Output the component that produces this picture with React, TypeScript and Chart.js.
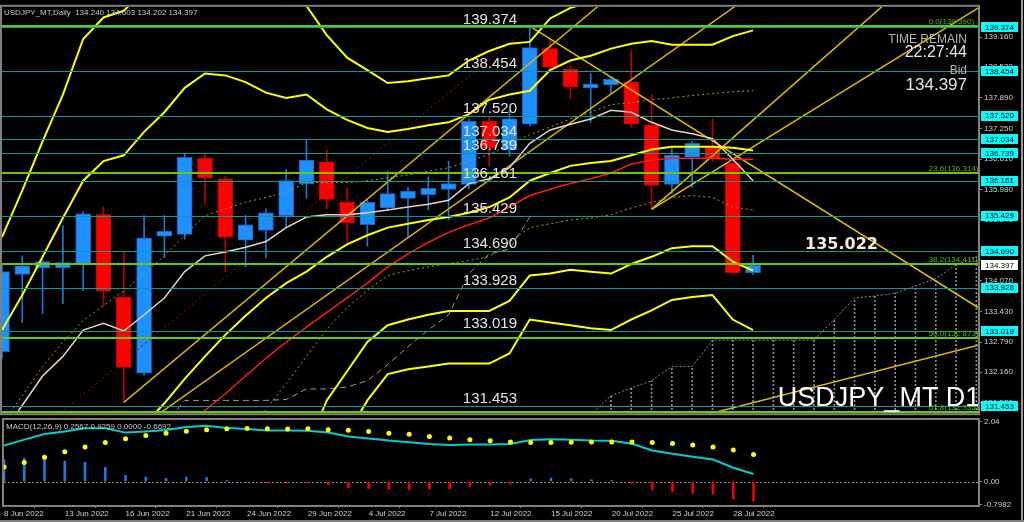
import React, { useEffect, useRef } from 'react';
import { Chart, registerables } from 'chart.js';

Chart.register(...registerables);
const FONT = "'Liberation Sans', Arial, sans-serif";
Chart.defaults.font.family = FONT;
Chart.defaults.font.size = 8;

// ---------------- data ----------------
const dateTickIdx = [0, 3, 6, 9, 12, 15, 18, 21, 24, 27, 30, 33, 36];
const dateTickLabels = ['8 Jun 2022', '13 Jun 2022', '16 Jun 2022', '21 Jun 2022', '24 Jun 2022', '29 Jun 2022', '4 Jul 2022', '7 Jul 2022', '12 Jul 2022', '15 Jul 2022', '20 Jul 2022', '25 Jul 2022', '28 Jul 2022'];

const opens = [132.59, 134.20, 134.34, 134.34, 134.40, 135.45, 133.73, 132.14, 135.00, 135.04, 136.63, 136.20, 134.92, 135.12, 135.43, 136.10, 136.55, 135.71, 135.24, 135.59, 135.79, 135.87, 135.98, 136.08, 137.40, 136.81, 137.34, 138.92, 138.49, 138.10, 138.16, 138.22, 137.32, 136.08, 136.65, 136.87, 136.53, 134.240];
const highs = [134.40, 134.59, 134.50, 135.22, 135.51, 135.61, 134.69, 135.43, 135.43, 136.71, 136.71, 136.25, 135.43, 135.57, 136.40, 137.02, 136.81, 136.00, 135.75, 136.36, 136.02, 136.24, 136.57, 137.45, 137.49, 137.63, 139.39, 139.12, 138.57, 138.40, 138.30, 138.87, 137.96, 136.83, 136.98, 137.45, 136.60, 134.603];
const lows = [132.45, 133.20, 133.38, 133.59, 133.87, 133.55, 131.53, 132.10, 134.55, 134.94, 135.69, 134.26, 134.36, 134.55, 135.18, 135.79, 135.57, 134.85, 134.79, 135.55, 134.98, 135.55, 135.34, 135.99, 136.47, 136.67, 137.30, 138.45, 137.87, 137.38, 137.98, 137.28, 135.59, 135.89, 136.02, 136.55, 134.20, 134.202];
const closes = [134.26, 134.38, 134.47, 134.45, 135.47, 133.85, 132.26, 134.96, 135.10, 136.65, 136.22, 134.98, 135.24, 135.49, 136.16, 136.59, 135.77, 135.28, 135.71, 135.89, 135.94, 136.00, 136.10, 137.40, 136.85, 137.45, 138.94, 138.53, 138.12, 138.18, 138.28, 137.34, 136.06, 136.69, 136.94, 136.61, 134.24, 134.397];

const bbUpper3 = [134.98, 135.96, 136.98, 137.96, 139.12, 139.57, 139.71, 140.14, 140.62, 141.14, 141.36, 141.08, 140.65, 140.14, 139.83, 139.81, 139.20, 138.73, 138.47, 138.20, 138.24, 138.30, 138.36, 138.67, 138.87, 139.02, 139.06, 139.55, 139.77, 139.89, 140.08, 140.18, 140.20, 140.06, 140.06, 140.06, 140.34, 140.55];
const bbUpper2 = [133.04, 133.77, 134.57, 135.38, 136.16, 136.57, 136.69, 137.18, 137.59, 138.10, 138.40, 138.36, 138.22, 138.00, 137.89, 137.96, 137.65, 137.43, 137.26, 137.18, 137.24, 137.32, 137.38, 137.55, 137.85, 137.96, 138.04, 138.47, 138.67, 138.77, 138.92, 139.02, 139.08, 139.00, 139.00, 139.00, 139.18, 139.30];
const bbMid = [null, null, null, null, null, null, 130.55, 131.06, 131.51, 132.02, 132.49, 132.94, 133.34, 133.71, 134.02, 134.26, 134.57, 134.83, 135.02, 135.18, 135.26, 135.34, 135.40, 135.49, 135.61, 135.81, 136.16, 136.32, 136.47, 136.53, 136.57, 136.69, 136.81, 136.87, 136.87, 136.87, 136.85, 136.79];
const bbLower2 = [null, null, null, null, null, null, null, null, null, null, null, null, null, null, null, 130.57, 131.57, 132.18, 132.79, 133.14, 133.26, 133.36, 133.44, 133.44, 133.44, 133.65, 134.18, 134.22, 134.30, 134.26, 134.22, 134.42, 134.57, 134.75, 134.79, 134.79, 134.47, 134.28];
const bbLower3 = [null, null, null, null, null, null, null, null, null, null, null, null, null, null, null, null, null, 130.85, 131.57, 132.12, 132.22, 132.28, 132.34, 132.34, 132.34, 132.55, 133.26, 133.20, 133.14, 133.08, 133.04, 133.26, 133.45, 133.67, 133.73, 133.77, 133.26, 133.04];
const maSilver = [130.85, 131.47, 132.08, 132.49, 133.04, 133.18, 133.02, 133.36, 133.71, 134.26, 134.59, 134.67, 134.77, 134.89, 135.18, 135.40, 135.45, 135.45, 135.49, 135.55, 135.61, 135.67, 135.75, 136.10, 136.20, 136.43, 136.94, 137.22, 137.34, 137.45, 137.63, 137.59, 137.38, 137.22, 137.14, 137.04, 136.61, 136.16];
const maRed = [null, null, null, null, null, null, null, null, null, 131.06, 131.36, 131.71, 132.08, 132.45, 132.79, 133.10, 133.41, 133.71, 134.02, 134.36, 134.63, 134.87, 135.08, 135.24, 135.38, 135.61, 135.85, 135.98, 136.10, 136.20, 136.32, 136.51, 136.59, 136.63, 136.63, 136.63, 136.61, 136.61];
const dotUpper = [131.06, 131.67, 132.28, 132.79, 133.24, 133.55, 133.86, 134.22, 134.59, 135.02, 135.43, 135.57, 135.71, 135.81, 135.92, 136.12, 136.12, 136.12, 136.16, 136.22, 136.28, 136.36, 136.43, 136.57, 136.71, 136.92, 137.12, 137.28, 137.45, 137.59, 137.75, 137.79, 137.85, 137.89, 137.94, 137.98, 138.02, 138.04];
const dotLower = [null, null, null, null, null, null, null, null, null, null, null, null, 130.85, 131.38, 131.92, 132.49, 133.06, 133.51, 133.87, 134.18, 134.28, 134.36, 134.43, 134.49, 134.57, 134.88, 135.18, 135.26, 135.34, 135.38, 135.45, 135.59, 135.71, 135.81, 135.85, 135.81, 135.61, 135.55];
const grayDash = [null, null, null, null, null, null, null, null, 131.06, 131.57, 131.57, 131.57, 131.57, 131.57, 131.59, 131.81, 131.81, 131.85, 131.98, 132.32, 132.69, 133.04, 133.36, 134.22, 134.63, 134.73, 135.40, null, null, null, null, null, null, null, null, null, null, null];
const cloudTop = [null, null, null, null, null, null, null, null, null, null, null, null, null, null, null, null, null, null, null, null, null, null, null, null, null, null, null, null, null, 131.26, 131.67, 131.83, 131.98, 132.28, 132.28, 132.83, 132.83, 132.83, 132.83, 132.83, 132.83, 133.26, 133.71, 133.75, 133.81, 133.96, 134.12, 134.40, 134.57];
const cloudFloor = 130.9;

const trendA = [[6, 131.53], [30, 140.03]];
const trendB = [[7, 131.07], [37, 140.07]];
const redDotted = [[2.5, 131.17], [26, 139.39]];
const fanC1 = [[32, 135.56], [44, 140.04]];
const fanC2 = [[32, 135.56], [50, 140.27]];
const downD = [[26, 139.39], [50, 133.0]];
const riseE = [[33, 131.09], [50, 132.93]];

const levelValues = [139.374, 138.454, 137.520, 137.034, 136.739, 136.161, 135.429, 134.690, 133.928, 133.019, 131.453];
const levelLabels = ['139.374', '138.454', '137.520', '137.034', '136.739', '136.161', '135.429', '134.690', '133.928', '133.019', '131.453'];
const fibLevels = [139.390, 136.314, 134.411, 132.873, 131.335];
const fibLabels = ['0.0(139.390)', '23.6(136.314)', '38.2(134.411)', '50.0(132.873)', '61.8(131.335)'];
const priceTicks = [139.16, 138.53, 137.89, 137.25, 136.61, 135.98, 135.34, 134.70, 134.07, 133.43, 132.79, 132.16, 131.53];
const bidValue = 134.397;
const noteValue = 135.022;
const timeRemain = '22:27:44';

const macdMain = [1.23, 1.43, 1.62, 1.71, 1.82, 1.82, 1.67, 1.71, 1.76, 1.86, 1.90, 1.83, 1.79, 1.74, 1.74, 1.73, 1.67, 1.54, 1.47, 1.40, 1.34, 1.28, 1.25, 1.26, 1.26, 1.28, 1.42, 1.44, 1.43, 1.40, 1.39, 1.29, 1.06, 0.95, 0.85, 0.75, 0.47, 0.2567];
const macdSignal = [0.50, 0.65, 0.83, 1.02, 1.18, 1.33, 1.46, 1.57, 1.65, 1.72, 1.77, 1.80, 1.81, 1.80, 1.79, 1.80, 1.77, 1.75, 1.71, 1.65, 1.61, 1.54, 1.49, 1.43, 1.39, 1.35, 1.33, 1.33, 1.34, 1.35, 1.35, 1.35, 1.33, 1.30, 1.25, 1.18, 1.08, 0.9259];
const macdHist = [0.75, 0.80, 0.79, 0.70, 0.66, 0.49, 0.21, 0.15, 0.11, 0.15, 0.14, 0.04, -0.02, -0.05, -0.05, -0.06, -0.11, -0.21, -0.24, -0.26, -0.27, -0.26, -0.25, -0.17, -0.13, -0.08, 0.09, 0.12, 0.10, 0.06, 0.04, -0.07, -0.27, -0.35, -0.40, -0.43, -0.60, -0.6692];
const macdTicks = [2.04, 0, -0.7982];
const macdTickLabels = ['2.04', '0.00', '-0.7982'];

// ---------------- layout constants ----------------
const X_MIN = 0;
const X_MAX = 48.08;
const Y_MIN = 131.303;
const Y_MAX = 139.793;
const LEVEL_LABEL_AT = 22.7;
const FIB_LABEL_AT = 45.65;
const NOTE_AT = 39.56;
const WATERMARK_AT = 38.22;
const FRAME = '#808080';

const pt = (a: (number | null)[]) => a.map((v, i) => ({ x: i, y: v }));
const seg = (a: number[][]) => a.map(([x, y]) => ({ x, y }));
const lineDs = (data: any, color: string, width: number, dash: number[], order: number) => ({
  type: 'line', data, borderColor: color, backgroundColor: color, borderWidth: width, borderDash: dash,
  pointRadius: 0, pointHoverRadius: 0, tension: 0, fill: false, order, spanGaps: false,
});

const frameOf = (ctx: any, ca: any) => {
  ctx.save();
  ctx.strokeStyle = FRAME;
  ctx.lineWidth = 2;
  ctx.strokeRect(ca.left - 1, ca.top - 1, ca.right - ca.left + 2, ca.bottom - ca.top + 2);
  ctx.restore();
};

const mainDeco = {
  id: 'mainDeco',
  afterDatasetsDraw(chart: any) {
    const { ctx, chartArea: ca, scales } = chart;
    const xs = scales.x;
    const ys = scales.y;
    ctx.save();
    ctx.beginPath();
    ctx.rect(ca.left, ca.top, ca.right - ca.left, ca.bottom - ca.top);
    ctx.clip();
    ctx.lineWidth = 1;
    ctx.strokeStyle = '#0A9A9A';
    levelValues.forEach((v) => {
      const py = Math.round(ys.getPixelForValue(v)) + 0.5;
      ctx.beginPath(); ctx.moveTo(ca.left, py); ctx.lineTo(ca.right, py); ctx.stroke();
    });
    ctx.lineWidth = 2;
    ctx.strokeStyle = '#6CC800';
    fibLevels.forEach((v) => {
      const py = Math.round(ys.getPixelForValue(v));
      ctx.beginPath(); ctx.moveTo(ca.left, py); ctx.lineTo(ca.right, py); ctx.stroke();
    });
    ctx.font = `8px ${FONT}`;
    ctx.fillStyle = '#5FB400';
    ctx.textAlign = 'left';
    ctx.textBaseline = 'alphabetic';
    fibLevels.forEach((v, i) => ctx.fillText(fibLabels[i], xs.getPixelForValue(FIB_LABEL_AT), ys.getPixelForValue(v) - 2));
    ctx.font = `15px ${FONT}`;
    ctx.fillStyle = '#E4E4E4';
    levelValues.forEach((v, i) => ctx.fillText(levelLabels[i], xs.getPixelForValue(LEVEL_LABEL_AT), ys.getPixelForValue(v) - 3));
    ctx.font = `bold 16px 'DejaVu Sans', sans-serif`;
    ctx.fillStyle = '#F8F0DC';
    ctx.textBaseline = 'top';
    ctx.fillText(noteValue.toFixed(3), xs.getPixelForValue(NOTE_AT), ys.getPixelForValue(noteValue) + 2);
    ctx.textAlign = 'right';
    ctx.textBaseline = 'middle';
    const rx = ca.right - 11;
    ctx.font = `12px ${FONT}`; ctx.fillStyle = '#B4B4B4'; ctx.fillText('TIME REMAIN', rx, 40);
    ctx.font = `16px ${FONT}`; ctx.fillStyle = '#E4E4E4'; ctx.fillText(timeRemain, rx, 53);
    ctx.font = `12px ${FONT}`; ctx.fillStyle = '#B4B4B4'; ctx.fillText('Bid', rx, 71);
    ctx.font = `17px ${FONT}`; ctx.fillStyle = '#E4E4E4'; ctx.fillText(bidValue.toFixed(3), rx, 85);
    ctx.textAlign = 'left';
    ctx.textBaseline = 'alphabetic';
    ctx.font = `27px ${FONT}`;
    ctx.fillStyle = '#FFFFFF';
    ctx.fillText('USDJPY_MT D1', xs.getPixelForValue(WATERMARK_AT), ca.bottom - 7);
    ctx.restore();
    ctx.save();
    ctx.font = `8px ${FONT}`;
    ctx.fillStyle = '#C8C8C8';
    ctx.textBaseline = 'middle';
    ctx.fillText(`USDJPY_MT,Daily  ${opens[37].toFixed(3)} ${highs[37].toFixed(3)} ${lows[37].toFixed(3)} ${closes[37].toFixed(3)}`, ca.left + 2, ca.top + 6);
    ctx.restore();
  },
  afterDraw(chart: any) {
    const { ctx, chartArea: ca, scales } = chart;
    const ys = scales.y;
    ctx.save();
    ctx.font = `8px ${FONT}`;
    ctx.textAlign = 'center';
    ctx.textBaseline = 'middle';
    const bx = ca.right + 3;
    const bw = 37;
    levelValues.forEach((v, i) => {
      const py = ys.getPixelForValue(v);
      ctx.fillStyle = '#00FFFF';
      ctx.fillRect(bx, Math.round(py) - 5, bw, 10);
      ctx.fillStyle = '#000000';
      ctx.fillText(levelLabels[i], bx + bw / 2, py + 0.5);
    });
    const by = ys.getPixelForValue(bidValue);
    ctx.fillStyle = '#FFFFFF';
    ctx.fillRect(bx, Math.round(by) - 5, bw, 10);
    ctx.fillStyle = '#000000';
    ctx.fillText(bidValue.toFixed(3), bx + bw / 2, by + 0.5);
    ctx.fillStyle = '#9A9A9A';
    ctx.fillRect(chart.width - 3, 0, 2, chart.height);
    ctx.restore();
    frameOf(ctx, ca);
  },
};

const macdDeco = {
  id: 'macdDeco',
  beforeDatasetsDraw(chart: any) {
    const { ctx, chartArea: ca, scales } = chart;
    const py = Math.round(scales.y.getPixelForValue(0)) + 0.5;
    ctx.save();
    ctx.strokeStyle = '#8A8A8A';
    ctx.lineWidth = 1;
    ctx.setLineDash([2, 2]);
    ctx.beginPath(); ctx.moveTo(ca.left, py); ctx.lineTo(ca.right, py); ctx.stroke();
    ctx.restore();
  },
  afterDraw(chart: any) {
    const { ctx, chartArea: ca } = chart;
    ctx.save();
    ctx.font = `8px ${FONT}`;
    ctx.fillStyle = '#C8C8C8';
    ctx.textBaseline = 'middle';
    const n = macdMain.length - 1;
    ctx.fillText(`MACD(12,26,9) ${macdMain[n].toFixed(4)} ${macdSignal[n].toFixed(4)} ${Math.max(0, macdHist[n]).toFixed(4)} ${Math.min(0, macdHist[n]).toFixed(4)}`, ca.left + 2, ca.top + 7);
    ctx.fillStyle = '#9A9A9A';
    ctx.fillRect(chart.width - 3, 0, 2, chart.height);
    ctx.fillStyle = FRAME;
    ctx.fillRect(0, chart.height - 2, chart.width, 2);
    ctx.restore();
    frameOf(ctx, ca);
  },
};

function buildMain(canvas: HTMLCanvasElement) {
  const pc = document.createElement('canvas');
  pc.width = 1; pc.height = 4;
  const pctx = pc.getContext('2d')!;
  pctx.fillStyle = '#8C8C8C';
  pctx.fillRect(0, 0, 1, 2);
  const pattern = canvas.getContext('2d')!.createPattern(pc, 'repeat');

  const bull = opens.map((o, i) => closes[i] >= o);
  const datasets: any[] = [
    lineDs(pt(bbUpper3), '#FFFF00', 2, [], 1),
    lineDs(pt(bbUpper2), '#FFFF00', 2, [], 1),
    lineDs(pt(bbMid), '#FFFF00', 2, [], 1),
    lineDs(pt(bbLower2), '#FFFF00', 2, [], 1),
    lineDs(pt(bbLower3), '#FFFF00', 2, [], 1),
    lineDs(pt(maSilver), '#E8D4C4', 1.5, [], 2),
    lineDs(pt(maRed), '#FF1A1A', 1.5, [], 2),
    lineDs(pt(dotUpper), '#A6A600', 1, [2, 3], 3),
    lineDs(pt(dotLower), '#A6A600', 1, [2, 3], 3),
    lineDs(pt(grayDash), '#A89A8C', 1, [6, 4], 3),
    lineDs(pt(cloudTop), '#8C8C8C', 1, [2, 2], 3),
    lineDs(seg(trendA), '#D9B000', 1.5, [], 4),
    lineDs(seg(trendB), '#D9B000', 1.5, [], 4),
    lineDs(seg(fanC1), '#E0BC00', 1.5, [], 4),
    lineDs(seg(fanC2), '#E0BC00', 1.5, [], 4),
    lineDs(seg(downD), '#E0BC00', 1.5, [], 4),
    lineDs(seg(riseE), '#E0BC00', 1.5, [], 4),
    lineDs(seg(redDotted), '#A01010', 1, [2, 3], 4),
    {
      type: 'bar', order: 30, clip: 0, grouped: false, barThickness: 1,
      data: cloudTop.map((v, i) => (v == null ? null : { x: i, y: [cloudFloor, v] })).filter((d) => d),
      backgroundColor: pattern, borderWidth: 0,
    },
    {
      type: 'bar', order: 21, clip: 0, grouped: false, barThickness: 1,
      data: opens.map((_, i) => ({ x: i, y: [lows[i], highs[i]] })),
      backgroundColor: bull.map((b) => (b ? '#1E78D0' : '#C00000')), borderWidth: 0,
    },
    {
      type: 'bar', order: 20, clip: 0, grouped: false, barThickness: 15,
      data: opens.map((o, i) => ({ x: i, y: [o, closes[i]] })),
      backgroundColor: bull.map((b) => (b ? '#1E90FF' : '#FF0000')),
      borderColor: bull.map((b) => (b ? '#1565C0' : '#C80000')),
      borderWidth: 1, borderSkipped: false,
    },
  ];

  return new Chart(canvas, {
    type: 'line',
    data: { datasets },
    options: {
      animation: false, responsive: false, devicePixelRatio: 1,
      layout: { padding: { left: 2, top: 2, right: 0, bottom: 2 } },
      plugins: { legend: { display: false }, tooltip: { enabled: false } },
      events: [],
      scales: {
        x: { type: 'linear', min: X_MIN, max: X_MAX, offset: false, bounds: 'data', display: false },
        y: {
          type: 'linear', position: 'right', min: Y_MIN, max: Y_MAX, bounds: 'data', beginAtZero: false,
          afterFit: (a: any) => { a.width = 46; },
          afterBuildTicks: (a: any) => { a.ticks = priceTicks.map((v) => ({ value: v })); },
          ticks: { callback: (v: any) => Number(v).toFixed(3), color: '#D0D0D0', font: { size: 8 }, padding: 2, autoSkip: false },
          grid: { drawOnChartArea: false, drawTicks: true, tickLength: 4, color: FRAME },
          border: { display: false },
        },
      },
    } as any,
    plugins: [mainDeco],
  } as any);
}

function buildMacd(canvas: HTMLCanvasElement) {
  const datasets: any[] = [
    {
      type: 'line', order: 1, data: pt(macdSignal), showLine: false,
      pointRadius: 2.5, pointBackgroundColor: '#FFFF00', pointBorderWidth: 0, borderColor: '#FFFF00',
    },
    lineDs(pt(macdMain), '#00CED1', 2, [], 2),
    {
      type: 'bar', order: 3, clip: 0, grouped: false, barThickness: 2,
      data: macdHist.map((v, i) => ({ x: i, y: v })),
      backgroundColor: macdHist.map((v) => (v >= 0 ? '#1E78DC' : '#F00000')), borderWidth: 0,
    },
  ];
  return new Chart(canvas, {
    type: 'line',
    data: { datasets },
    options: {
      animation: false, responsive: false, devicePixelRatio: 1,
      layout: { padding: { left: 2, top: 10, right: 0, bottom: 1 } },
      plugins: { legend: { display: false }, tooltip: { enabled: false } },
      events: [],
      scales: {
        x: {
          type: 'linear', min: X_MIN, max: X_MAX, offset: false, bounds: 'data',
          afterFit: (a: any) => { a.height = 16; },
          afterBuildTicks: (a: any) => { a.ticks = dateTickIdx.map((v) => ({ value: v })); },
          ticks: {
            autoSkip: false, maxRotation: 0, minRotation: 0, align: 'start', padding: 1,
            color: '#D0D0D0', font: { size: 8 },
            callback: (v: any) => { const k = dateTickIdx.indexOf(Number(v)); return k >= 0 ? dateTickLabels[k] : ''; },
          },
          grid: { drawOnChartArea: false, drawTicks: true, tickLength: 3, color: FRAME },
          border: { display: false },
        },
        y: {
          type: 'linear', position: 'right', min: -0.80, max: 2.10, bounds: 'data', beginAtZero: false,
          afterFit: (a: any) => { a.width = 46; },
          afterBuildTicks: (a: any) => { a.ticks = macdTicks.map((v) => ({ value: v })); },
          ticks: {
            autoSkip: false, color: '#D0D0D0', font: { size: 8 }, padding: 2,
            callback: (v: any) => { const k = macdTicks.indexOf(Number(v)); return k >= 0 ? macdTickLabels[k] : ''; },
          },
          grid: { drawOnChartArea: false, drawTicks: true, tickLength: 4, color: FRAME },
          border: { display: false },
        },
      },
    } as any,
    plugins: [macdDeco],
  } as any);
}

export default function App() {
  const mainRef = useRef<HTMLCanvasElement>(null);
  const macdRef = useRef<HTMLCanvasElement>(null);
  useEffect(() => {
    const c1 = buildMain(mainRef.current!);
    const c2 = buildMacd(macdRef.current!);
    return () => { c1.destroy(); c2.destroy(); };
  }, []);
  return (
    <div style={{ position: 'fixed', left: 0, top: 0, width: 1024, height: 522, background: '#000', overflow: 'hidden' }}>
      <canvas ref={mainRef} width={1024} height={420} style={{ position: 'absolute', left: 0, top: 0, width: 1024, height: 420 }} />
      <canvas ref={macdRef} width={1024} height={112} style={{ position: 'absolute', left: 0, top: 410, width: 1024, height: 112 }} />
    </div>
  );
}
